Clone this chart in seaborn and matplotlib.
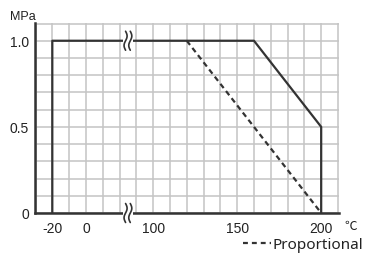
import numpy as np
import pandas as pd
import matplotlib
matplotlib.use("Agg")
import matplotlib.pyplot as plt
import seaborn as sns
from matplotlib.lines import Line2D

sns.set_style("white")
plt.rcParams['font.family'] = ['Liberation Sans', 'DejaVu Sans']

# ---- data (true temperatures in deg C, pressure in MPa) ----
solid_temp = [-20, -20, 160, 200, 200]
solid_pressure = [0.0, 1.0, 1.0, 0.5, 0.0]
dash_temp = [120, 200]
dash_pressure = [1.0, 0.0]
x_tick_values = [-20, 0, 100, 150, 200]
x_tick_labels = ["-20", "0", "100", "150", "200"]
y_tick_values = [0.0, 0.5, 1.0]
y_tick_labels = ["0", "0.5", "1.0"]
legend_label = "Proportional"

# broken axis: 20..80 degC removed
BREAK_LO, BREAK_HI = 25, 85
def to_axis(t):
    t = np.asarray(t, dtype=float)
    return np.where(t <= BREAK_LO, t, np.maximum(t - (BREAK_HI - BREAK_LO), BREAK_LO))

grid_x_true = list(range(-30, 21, 10)) + list(range(90, 211, 10))
grid_y = np.round(np.arange(0, 1.11, 0.1), 2)

LINE = "#333333"
GRID = "#c4c4c4"
DASH = (0, (2.4, 1.7))

fig = plt.figure(figsize=(3.66, 2.55), dpi=100)
ax = fig.add_axes([35/366, 41/255, 304/366, 190/255])

df_s = pd.DataFrame({"x": to_axis(solid_temp), "y": solid_pressure})
df_d = pd.DataFrame({"x": to_axis(dash_temp), "y": dash_pressure})
sns.lineplot(data=df_s, x="x", y="y", ax=ax, sort=False, estimator=None,
             color=LINE, lw=1.6, zorder=3)
sns.lineplot(data=df_d, x="x", y="y", ax=ax, sort=False, estimator=None,
             color=LINE, lw=1.6, dashes=False, linestyle=DASH, zorder=3)

ax.set_xlim(-30.3, 150.6)
ax.set_ylim(0, 1.103)

# grid lines (every cell)
ax.xaxis.remove_overlapping_locs = False
ax.yaxis.remove_overlapping_locs = False
ax.set_xticks(to_axis(grid_x_true), minor=True)
ax.set_yticks(grid_y, minor=True)
ax.grid(which="minor", color=GRID, lw=1.1, zorder=0)
ax.grid(which="major", visible=False)
ax.set_axisbelow(True)

ax.set_xticks(to_axis(x_tick_values))
ax.set_xticklabels(x_tick_labels)
ax.set_yticks(y_tick_values)
ax.set_yticklabels(y_tick_labels)
ax.tick_params(axis="x", which="major", direction="in", length=5, width=1.5,
               color=LINE, pad=6, labelsize=10, labelcolor="#222222")
ax.tick_params(axis="y", which="major", direction="inout", length=7, width=1.5,
               color=LINE, pad=1, labelsize=10, labelcolor="#222222")
ax.tick_params(which="minor", length=0)
ax.set_xlabel("")
ax.set_ylabel("")

for s in ["top", "right"]:
    ax.spines[s].set_visible(False)
for s in ["left", "bottom"]:
    ax.spines[s].set_color(LINE)
    ax.spines[s].set_linewidth(1.8)

# break marks
bx = float(BREAK_LO)
def break_mark(yc, h):
    ax.add_patch(plt.Rectangle((bx - 3.0, yc - h * 0.6), 6.0, h * 1.2,
                               facecolor="white", edgecolor="none",
                               zorder=4, clip_on=False))
    t = np.linspace(0, 1, 40)
    for off in (-1.4, 1.4):
        ax.plot(bx + off + 0.9 * np.sin(2 * np.pi * t + np.pi), yc + h * (t - 0.5),
                color=LINE, lw=1.2, zorder=5, clip_on=False)
break_mark(1.0, 0.11)
break_mark(0.0, 0.11)

fig.text(10/366, 1 - 17/255, "MPa", fontsize=9, va="center", ha="left", color="#222222")
fig.text(344/366, 1 - 226/255, "\u2103", fontsize=9, va="center", ha="left",
         color="#222222", family=["Noto Sans CJK JP", "DejaVu Sans"])

handle = Line2D([], [], color=LINE, lw=1.6, linestyle=(0, (2.2, 1.8)))
fig.legend([handle], [legend_label], loc="center right",
           bbox_to_anchor=(0.992, 1 - 246/255), frameon=False,
           prop={"family": ["Noto Sans", "DejaVu Sans"], "size": 11},
           handlelength=1.8, handletextpad=0.1, borderpad=0, borderaxespad=0,
           labelcolor="#222222")

fig.savefig("out.png", dpi=100)
